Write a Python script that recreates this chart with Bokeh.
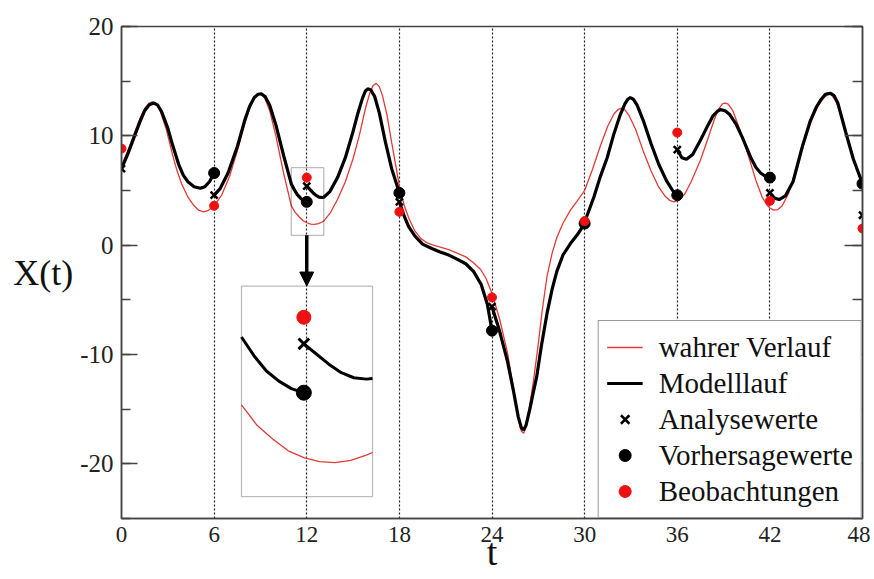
import numpy as np
from bokeh.plotting import figure
from bokeh.models import (SingleIntervalTicker, LinearAxis, Arrow, NormalHead,
                          BoxAnnotation, Legend, LegendItem, CustomJSTickFormatter)
from bokeh.embed import file_html
from bokeh.resources import INLINE

# ---------------- data ----------------
true_t = [0.0, 0.4, 0.9, 1.2, 1.5, 1.8, 2.0, 2.2, 2.5, 2.9, 3.3, 3.6, 3.9, 4.3, 4.7, 5.0, 5.3, 5.6, 6.0,
          6.5, 7.0, 7.5, 8.0, 8.3, 8.6, 8.85, 9.05, 9.3, 9.6, 10.0, 10.5, 11.0, 11.25, 11.5, 11.75,
          12.0, 12.25, 12.5, 12.75, 13.0, 13.1, 13.5, 14.0, 14.5, 15.0, 15.4, 15.8, 16.1, 16.3,
          16.5, 16.7, 16.9, 17.2, 17.5, 17.8, 18.0, 18.3, 18.6, 19.0, 19.4, 19.8, 20.2, 20.7,
          21.2, 21.7, 22.3, 22.8, 23.25, 23.6, 24.0, 24.5, 25.0, 25.4, 25.7, 25.9, 26.05, 26.2,
          26.45, 26.7, 27.0, 27.25, 27.57, 27.9, 28.2, 28.6, 29.08, 29.5, 30.0, 30.5, 31.0, 31.5,
          31.9, 32.2, 32.4, 32.6, 32.9, 33.3, 33.8, 34.3, 34.8, 35.2, 35.5, 35.8, 36.1, 36.5,
          36.9, 37.5, 38.0, 38.4, 38.7, 38.95, 39.1, 39.3, 39.6, 40.1, 40.6, 41.1, 41.5, 41.8,
          42.0, 42.25, 42.5, 42.8, 43.2, 43.7, 44.2, 44.7, 45.1, 45.5, 45.8, 46.0, 46.3, 46.6,
          46.9, 47.4, 48.0]
true_x = [7.3, 8.6, 10.5, 11.6, 12.5, 13.0, 13.1, 13.0, 12.3, 10.6, 8.3, 6.8, 5.6, 4.4, 3.6, 3.2, 3.05, 3.15, 3.6,
          4.6, 6.3, 8.6, 11.2, 12.5, 13.4, 13.75, 13.8, 13.4, 12.3, 10.0, 6.6, 3.6, 3.0, 2.6, 2.25,
          2.05, 1.93, 1.9, 1.97, 2.12, 2.2, 2.9, 4.2, 5.8, 7.9, 10.0, 12.5, 14.0, 14.6,
          14.8, 14.5, 13.7, 11.9, 9.4, 7.0, 5.4, 3.7, 2.5, 1.3, 0.6, 0.2, 0.0, -0.2,
          -0.4, -0.7, -1.07, -1.6, -2.2, -3.0, -4.4, -6.8, -9.8, -13.2, -15.8, -17.0, -17.2, -16.6,
          -14.6, -12.3, -9.0, -6.0, -2.8, -0.7, 0.7, 2.0, 3.2, 4.0, 5.0, 6.9, 9.0, 10.9,
          12.0, 12.45, 12.5, 12.4, 11.8, 10.6, 8.6, 6.8, 5.3, 4.5, 4.1, 3.96, 4.1, 4.7,
          5.8, 7.76, 9.8, 11.5, 12.5, 12.95, 13.0, 12.9, 12.3, 10.4, 8.2, 5.9, 4.4, 3.7,
          3.4, 3.2, 3.25, 3.6, 4.7, 6.9, 9.3, 11.4, 12.7, 13.5, 13.8, 13.75, 13.1, 12.0,
          10.3, 7.8, 5.5]

model_t = [
    [0.0, 0.4, 0.9, 1.2, 1.5, 1.8, 2.1, 2.35, 2.6, 3.0, 3.3, 3.7, 4.0, 4.3, 4.7, 5.1, 5.4, 5.7, 6.0],
    [6.0, 6.4, 6.9, 7.5, 8.0, 8.3, 8.6, 8.85, 9.05, 9.3, 9.6, 10.0, 10.5, 11.0, 11.2, 11.4, 11.6, 11.8, 12.0],
    [12.0, 12.2, 12.4, 12.6, 12.8, 13.0, 13.1, 13.5, 14.0, 14.5, 15.0, 15.3, 15.6, 15.8, 15.95, 16.15,
     16.4, 16.7, 17.1, 17.5, 18.0],
    [18.0, 18.3, 18.6, 19.0, 19.5, 20.1, 20.6, 21.2, 21.7, 22.3, 22.8, 23.3, 23.7, 24.0],
    [24.0, 24.5, 25.0, 25.4, 25.7, 25.9, 26.05, 26.2, 26.45, 26.7, 26.9, 27.2, 27.57, 27.9, 28.2, 28.6,
     29.08, 29.5, 30.0],
    [30.0, 30.6, 31.0, 31.46, 31.9, 32.3, 32.6, 32.8, 32.95, 33.15, 33.4, 33.8, 34.3, 34.8, 35.3, 35.7, 36.0],
    [36.0, 36.3, 36.6, 37.0, 37.5, 38.0, 38.3, 38.6, 38.8, 39.1, 39.4, 39.8, 40.2, 40.5, 40.8, 41.1,
     41.4, 41.7, 42.0],
    [42.0, 42.3, 42.6, 43.0, 43.5, 44.1, 44.6, 45.0, 45.3, 45.6, 45.9, 46.15, 46.4, 46.9, 47.4, 48.0],
]
model_x = [
    [7.0, 8.3, 10.2, 11.3, 12.3, 12.85, 13.0, 12.8, 12.2, 10.7, 9.2, 7.4, 6.4, 5.8, 5.35, 5.2, 5.35, 5.8, 6.6],
    [4.57, 5.2, 6.6, 9.0, 11.5, 12.7, 13.5, 13.8, 13.85, 13.6, 12.8, 11.0, 8.2, 5.6, 5.05, 4.6, 4.3, 4.08, 3.96],
    [5.4, 5.1, 4.8, 4.55, 4.4, 4.36, 4.38, 4.9, 6.2, 8.0, 10.4, 12.0, 13.4, 14.1, 14.3, 14.2,
     13.6, 12.1, 9.4, 7.0, 4.78],
    [3.96, 2.7, 1.7, 0.85, 0.1, -0.3, -0.6, -0.91, -1.25, -1.7, -2.4, -3.6, -5.4, -7.82],
    [-5.63, -7.9, -10.6, -13.4, -15.7, -16.7, -16.9, -16.5, -15.0, -13.3, -12.0, -9.2, -6.2, -4.0, -2.4, -0.9,
     0.15, 0.9, 1.98],
    [2.1, 4.4, 6.2, 8.0, 10.2, 11.9, 12.9, 13.35, 13.5, 13.35, 12.8, 11.4, 9.3, 7.4, 5.9, 5.0, 4.57],
    [8.74, 8.0, 7.85, 8.3, 9.6, 11.0, 11.8, 12.25, 12.4, 12.3, 11.95, 11.1, 9.9, 8.9, 7.9, 7.1,
     6.6, 6.3, 6.18],
    [4.78, 4.3, 4.17, 4.5, 5.8, 9.0, 11.3, 12.6, 13.3, 13.8, 13.9, 13.7, 13.0, 10.4, 7.9, 5.63],
]

analysis_t = [0, 6, 12, 18, 24, 30, 36, 42, 48]
analysis_x = [7.0, 4.57, 5.4, 3.96, -5.63, 2.1, 8.74, 4.78, 2.74]
forecast_t = [6, 12, 18, 24, 30, 36, 42, 48]
forecast_x = [6.6, 3.96, 4.78, -7.82, 1.98, 4.57, 6.18, 5.63]
obs_t = [0, 6, 12, 18, 24, 30, 36, 42, 48]
obs_x = [8.83, 3.6, 6.18, 3.05, -4.78, 2.2, 10.3, 4.05, 1.52]

# zoom window and inset placement (data units)
zoom_t = (11.0, 13.1)
zoom_x = (0.9, 7.1)
inset_t = (7.77, 16.26)
inset_x = (-23.0, -3.74)
inset_time = 12

FONT = "Liberation Serif"
AX = "#444444"

# ---------------- figure ----------------
p = figure(frame_width=741, frame_height=492, x_range=(0, 48), y_range=(-25, 20),
           output_backend="svg", toolbar_location=None,
           min_border_left=121, min_border_top=26, min_border_right=8, min_border_bottom=61)
p.background_fill_color = "white"
p.border_fill_color = "white"
p.outline_line_color = AX
p.outline_line_width = 1.5

xt = SingleIntervalTicker(interval=6, num_minor_ticks=0)
yt = SingleIntervalTicker(interval=10, num_minor_ticks=2)
plain = CustomJSTickFormatter(code="return String(tick);")

p.xaxis.ticker = xt
p.xaxis.formatter = plain
p.xaxis.major_tick_in = 0
p.xaxis.major_tick_out = 0
p.xaxis.minor_tick_in = 0
p.xaxis.minor_tick_out = 0
p.xaxis.axis_line_color = AX
p.xaxis.axis_line_width = 1.5
p.xaxis.major_label_text_font = FONT
p.xaxis.major_label_text_font_size = "23px"
p.xaxis.major_label_text_color = "#222222"
p.xaxis.major_label_standoff = 8
p.xaxis.axis_label = "t"
p.xaxis.axis_label_text_font = FONT
p.xaxis.axis_label_text_font_size = "38px"
p.xaxis.axis_label_text_font_style = "normal"
p.xaxis.axis_label_text_color = "#111111"
p.xaxis.axis_label_standoff = -14

p.yaxis.ticker = yt
p.yaxis.formatter = plain
p.yaxis.major_tick_in = 16
p.yaxis.major_tick_out = 0
p.yaxis.minor_tick_in = 9
p.yaxis.minor_tick_out = 0
p.yaxis.major_tick_line_color = AX
p.yaxis.minor_tick_line_color = AX
p.yaxis.major_tick_line_width = 1.5
p.yaxis.minor_tick_line_width = 1.5
p.yaxis.axis_line_color = AX
p.yaxis.axis_line_width = 1.5
p.yaxis.major_label_text_font = FONT
p.yaxis.major_label_text_font_size = "25px"
p.yaxis.major_label_text_color = "#222222"
p.yaxis.major_label_standoff = 8
p.yaxis.axis_label = "X(t)"
p.yaxis.axis_label_orientation = "horizontal"
p.yaxis.axis_label_text_font = FONT
p.yaxis.axis_label_text_font_size = "36px"
p.yaxis.axis_label_text_font_style = "normal"
p.yaxis.axis_label_text_color = "#111111"
p.yaxis.axis_label_standoff = 4

right = LinearAxis(ticker=SingleIntervalTicker(interval=10, num_minor_ticks=2),
                   formatter=CustomJSTickFormatter(code="return '';"),
                   major_tick_in=18, major_tick_out=0, minor_tick_in=10, minor_tick_out=0,
                   axis_line_color=AX, axis_line_width=1.5,
                   major_tick_line_color=AX, minor_tick_line_color=AX,
                   major_tick_line_width=1.5, minor_tick_line_width=1.5,
                   major_label_standoff=0)
p.add_layout(right, "right")

p.xgrid.ticker = xt
p.xgrid.grid_line_color = "#222222"
p.xgrid.grid_line_dash = "2 2"
p.xgrid.grid_line_width = 1.2
p.ygrid.visible = False

# main curves
red_r = p.line(true_t, true_x, line_color="#e23a34", line_width=1.3)
black_r = p.multi_line(xs=model_t, ys=model_x, line_color="black", line_width=3.2)
fc_r = p.scatter(forecast_t, forecast_x, marker="circle", size=11, color="black")
an_r = p.scatter(analysis_t, analysis_x, marker="x", size=10, line_width=2.5, color="black")
ob_r = p.scatter(obs_t, obs_x, marker="circle", size=9, color="#ee1111")

# ---------------- inset ----------------
def to_inset(t, x):
    t = np.asarray(t, dtype=float)
    x = np.asarray(x, dtype=float)
    tt = inset_t[0] + (t - zoom_t[0]) * (inset_t[1] - inset_t[0]) / (zoom_t[1] - zoom_t[0])
    xx = inset_x[0] + (x - zoom_x[0]) * (inset_x[1] - inset_x[0]) / (zoom_x[1] - zoom_x[0])
    return tt, xx

def clip(t, x):
    t = np.asarray(t, dtype=float)
    x = np.asarray(x, dtype=float)
    m = (t >= zoom_t[0] - 1e-9) & (t <= zoom_t[1] + 1e-9)
    return t[m], x[m]

p.add_layout(BoxAnnotation(left=zoom_t[0], right=zoom_t[1], bottom=zoom_x[0], top=zoom_x[1],
                           fill_alpha=0, line_color="#222222", line_width=1.3))
p.add_layout(BoxAnnotation(left=inset_t[0], right=inset_t[1], bottom=inset_x[0], top=inset_x[1],
                           fill_alpha=0, line_color="#222222", line_width=1.3))

ti, xi = to_inset(*clip(true_t, true_x))
p.line(ti, xi, line_color="#e23a34", line_width=1.3)
for st, sx in zip(model_t, model_x):
    ct, cx = clip(st, sx)
    if len(ct) > 1:
        ti, xi = to_inset(ct, cx)
        p.line(ti, xi, line_color="black", line_width=3)

k_f = forecast_t.index(inset_time)
k_a = analysis_t.index(inset_time)
k_o = obs_t.index(inset_time)
ft, fx = to_inset([forecast_t[k_f]], [forecast_x[k_f]])
at, ax_ = to_inset([analysis_t[k_a]], [analysis_x[k_a]])
ot, ox = to_inset([obs_t[k_o]], [obs_x[k_o]])
p.scatter(ft, fx, marker="circle", size=15, color="black")
p.scatter(at, ax_, marker="x", size=15, line_width=3, color="black")
p.scatter(ot, ox, marker="circle", size=14, color="#ee1111")

p.add_layout(Arrow(end=NormalHead(size=14, fill_color="black", line_color="black"),
                   x_start=inset_time, y_start=zoom_x[0], x_end=inset_time, y_end=inset_x[1],
                   line_width=3.5, line_color="black"))

# ---------------- legend ----------------
legend = Legend(items=[
    LegendItem(label="wahrer Verlauf", renderers=[red_r]),
    LegendItem(label="Modelllauf", renderers=[black_r]),
    LegendItem(label="Analysewerte", renderers=[an_r]),
    LegendItem(label="Vorhersagewerte", renderers=[fc_r]),
    LegendItem(label="Beobachtungen", renderers=[ob_r]),
], location="bottom_right")
legend.margin = 0
legend.padding = 8
legend.spacing = 0
legend.label_height = 36
legend.glyph_height = 30
legend.glyph_width = 36
legend.label_standoff = 16
legend.label_text_font = FONT
legend.label_text_font_size = "29px"
legend.label_text_color = "#111111"
legend.border_line_color = "#333333"
legend.border_line_width = 1.5
legend.background_fill_alpha = 1.0
p.add_layout(legend)

open("out.html", "w").write(file_html(p, INLINE))
